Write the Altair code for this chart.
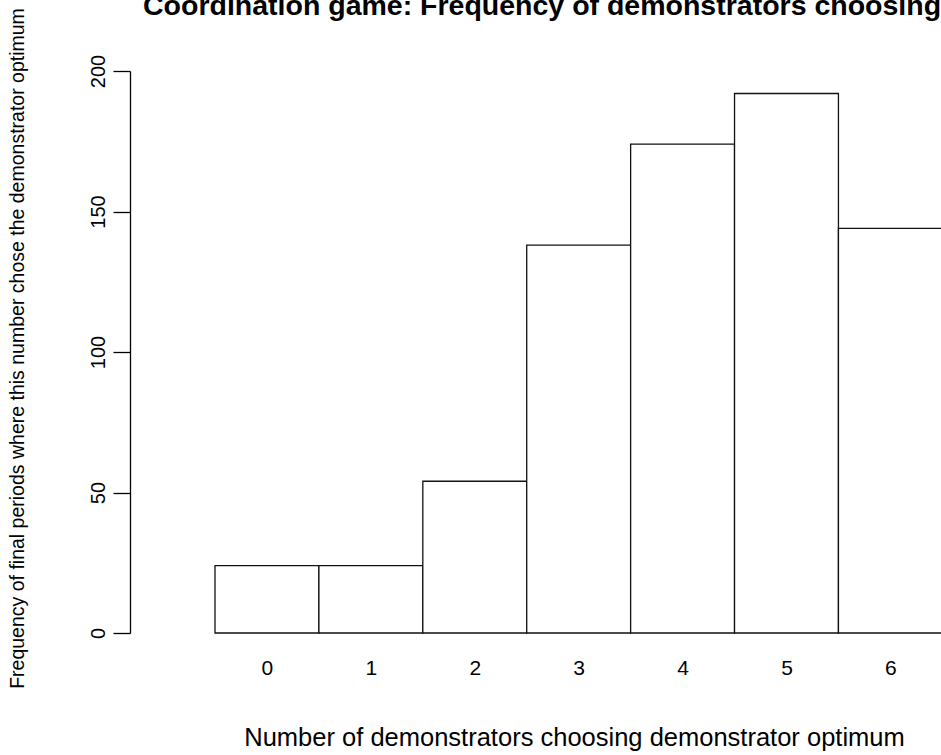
import altair as alt
import pandas as pd

# Number of demonstrators (0-6) who chose the demonstrator optimum, and
# how many final periods ended with that count.
counts = [0, 1, 2, 3, 4, 5, 6]
frequency = [24, 24, 54, 138, 174, 192, 144]

df = pd.DataFrame({
    "count": counts,
    "lo": [c - 0.5 for c in counts],
    "hi": [c + 0.5 for c in counts],
    "freq": frequency,
})

FONT = "Liberation Sans"

x_scale = alt.Scale(domain=[-1.318, 6.487], nice=False, zero=False)
y_scale = alt.Scale(domain=[0, 200], nice=False)

bars = alt.Chart(df).mark_rect(
    fill="white", stroke="#111111", strokeWidth=1.3
).encode(
    x=alt.X(
        "lo:Q",
        scale=x_scale,
        axis=alt.Axis(
            values=counts,
            format="d",
            title="Number of demonstrators choosing demonstrator optimum",
            domain=False,
            ticks=False,
            tickSize=0,
            grid=False,
            labelFont=FONT,
            labelFontSize=21,
            labelColor="black",
            labelBaseline="middle",
            labelPadding=35,
            titleFont=FONT,
            titleFontSize=25.5,
            titleFontWeight="normal",
            titleColor="black",
            titleBaseline="middle",
            titleX=444,
            titleY=104,
        ),
    ),
    x2="hi:Q",
    y=alt.Y(
        "freq:Q",
        scale=y_scale,
        axis=alt.Axis(
            values=[0, 50, 100, 150, 200],
            title="Frequency of final periods where this number chose the demonstrator optimum",
            grid=False,
            domainColor="black",
            domainWidth=1.3,
            tickColor="black",
            tickWidth=1.3,
            tickSize=17,
            labelFont=FONT,
            labelFontSize=20,
            labelColor="black",
            labelAngle=270,
            labelAlign="center",
            labelBaseline="alphabetic",
            labelPadding=9,
            titleFont=FONT,
            titleFontSize=19.5,
            titleFontWeight="normal",
            titleColor="black",
            titleAngle=270,
            titleAlign="center",
            titleBaseline="middle",
            titleX=-113,
            titleY=277,
        ),
    ),
    y2=alt.Y2(datum=0),
)

chart = bars.properties(
    width=811,
    height=562,
    title=alt.TitleParams(
        "Coordination game: Frequency of demonstrators choosing demonstrator optimum",
        anchor="start",
        frame="group",
        orient="top",
        font=FONT,
        fontSize=28.5,
        fontWeight="bold",
        color="black",
        baseline="alphabetic",
        dx=13,
        dy=36,
        offset=0,
    ),
    autosize=alt.AutoSizeParams(type="none"),
    padding={"left": 130, "top": 71, "right": 0, "bottom": 122},
).configure(background="white").configure_view(stroke=None)

chart.save("out.html", embed_options={"renderer": "svg", "actions": False})
